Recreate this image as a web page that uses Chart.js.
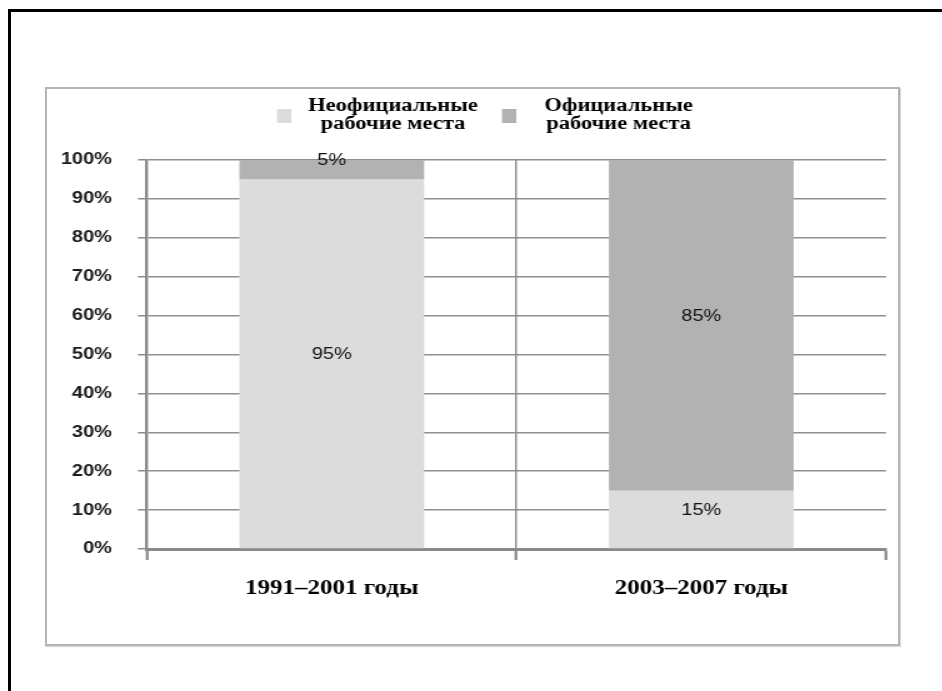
<!DOCTYPE html>
<html>
<head>
<meta charset="utf-8">
<script src="https://cdn.jsdelivr.net/npm/chart.js@4"></script>
<style>
  html, body { margin: 0; padding: 0; background: #fff; overflow: hidden; }
  body { width: 942px; height: 691px; position: relative; }
  #outer { position: absolute; left: 8px; top: 9px; width: 1000px; height: 800px; border: 3px solid #000; }
  #inner { position: absolute; left: 45px; top: 87px; width: 851px; height: 555px; border: 2px solid #b4b4b4; box-shadow: 1px 1px 1px #d8d8d8; }
  /* the reference is stretched sideways, so the chart is drawn narrow and widened */
  #wrap { position: absolute; left: 0; top: 0; width: 754px; height: 691px; transform: scaleX(1.25); transform-origin: 0 0; }
</style>
</head>
<body>
<div id="outer"></div>
<div id="inner"></div>
<div id="wrap"><canvas id="chart"></canvas></div>
<script>
// данные
const periods = ['1991\u20132001 годы', '2003\u20132007 годы'];
const seriesNames = [['Неофициальные', 'рабочие места'], ['Официальные', 'рабочие места']];
const informal = [95, 15];
const formal = [5, 85];
const yTicks = [0, 10, 20, 30, 40, 50, 60, 70, 80, 90, 100];

const colors = ['#dcdcdc', '#b2b2b2'];
const gridColor = '#8f8f8f';
const axisColor = '#8a8a8a';

// подписи значений в середине сегментов
const valueLabels = {
    id: 'valueLabels',
    afterDatasetsDraw(chart) {
        const ctx = chart.ctx;
        ctx.save();
        ctx.font = '16px "Liberation Sans", Arial, sans-serif';
        ctx.fillStyle = '#111';
        ctx.textAlign = 'center';
        ctx.textBaseline = 'middle';
        chart.data.datasets.forEach((ds, i) => {
            chart.getDatasetMeta(i).data.forEach((bar, j) => {
                const y = (bar.y + bar.base) / 2 - 9;
                ctx.fillText(ds.data[j] + '%', bar.x, y);
            });
        });
        ctx.restore();
    }
};

// легенда в две строки
const twoLineLegend = {
    id: 'twoLineLegend',
    afterDraw(chart) {
        const ctx = chart.ctx;
        const spots = [{ box: 221.6, text: 314.4 }, { box: 401.6, text: 494.8 }];
        ctx.save();
        ctx.font = 'bold 18px "Liberation Serif", "Times New Roman", serif';
        ctx.textAlign = 'center';
        ctx.textBaseline = 'alphabetic';
        chart.data.datasets.forEach((ds, i) => {
            ctx.fillStyle = ds.backgroundColor;
            ctx.fillRect(spots[i].box, 109, 11.5, 14);
            ctx.fillStyle = '#000';
            ds.label.forEach((line, k) => ctx.fillText(line, spots[i].text, 111 + k * 18));
        });
        ctx.restore();
    }
};

new Chart(document.getElementById('chart'), {
    type: 'bar',
    data: {
        labels: periods,
        datasets: [
            { label: seriesNames[0], data: informal, backgroundColor: colors[0], barPercentage: 0.5, categoryPercentage: 1 },
            { label: seriesNames[1], data: formal, backgroundColor: colors[1], barPercentage: 0.5, categoryPercentage: 1 }
        ]
    },
    options: {
        responsive: true,
        maintainAspectRatio: false,
        animation: false,
        layout: { padding: { left: 0, right: 45.2, top: 160, bottom: 82 } },
        plugins: { legend: { display: false }, tooltip: { enabled: false } },
        scales: {
            x: {
                stacked: true,
                z: 1,
                afterFit: s => { s.height = 60; },
                grid: {
                    color: c => c.index === 1 ? gridColor : 'transparent',
                    lineWidth: 1.5,
                    tickColor: axisColor,
                    tickWidth: 2.2,
                    tickLength: 11
                },
                border: { color: axisColor, width: 3 },
                ticks: {
                    color: '#000',
                    padding: 17,
                    font: { family: '"Liberation Serif", "Times New Roman", serif', size: 20, weight: 'bold' }
                }
            },
            y: {
                stacked: true,
                min: 0,
                max: 100,
                afterFit: s => { s.width = 117.6; },
                afterBuildTicks: s => { s.ticks = yTicks.map(v => ({ value: v })); },
                grid: { color: gridColor, lineWidth: 1.5, tickColor: axisColor, tickLength: 7.2 },
                border: { color: axisColor, width: 2.4 },
                ticks: {
                    color: '#1a1a1a',
                    padding: 20.8,
                    callback: v => v + '%',
                    font: { family: '"Liberation Sans", Arial, sans-serif', size: 16, weight: 'bold' }
                }
            }
        }
    },
    plugins: [valueLabels, twoLineLegend]
});
</script>
</body>
</html>
